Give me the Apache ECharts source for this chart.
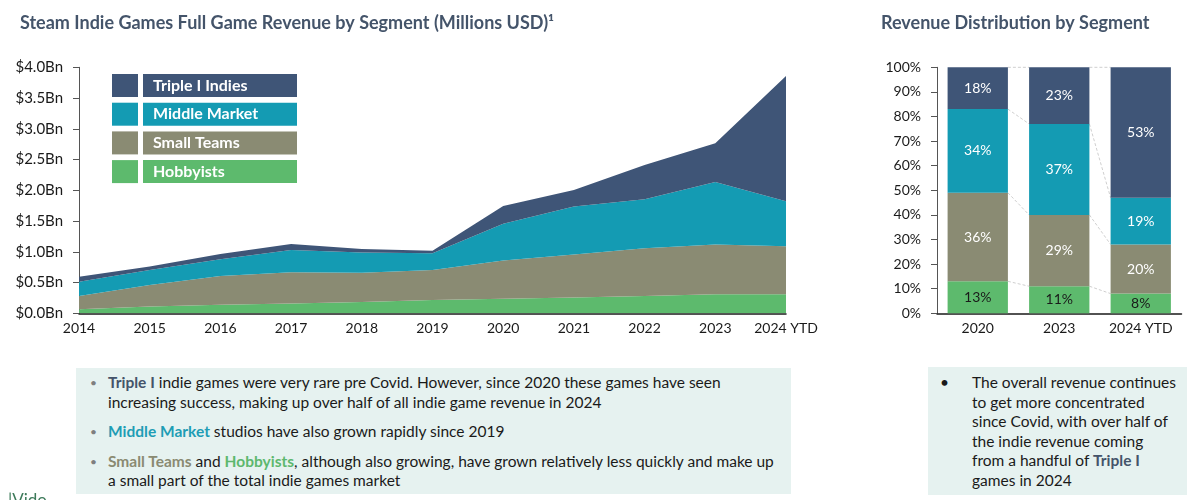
<!DOCTYPE html>
<html>
<head>
<meta charset="utf-8">
<script src="https://cdn.jsdelivr.net/npm/echarts@6/dist/echarts.min.js"></script>
<style>
html,body{margin:0;padding:0;background:#fff;}
#wrap{position:relative;width:1200px;height:500px;overflow:hidden;font-family:Lato,"Open Sans",sans-serif;}
#chart{position:absolute;left:0;top:0;width:1200px;height:500px;}
.box{position:absolute;background:#E6F2F0;color:#1a1a1a;font-size:15.5px;line-height:19.5px;white-space:nowrap;}
.item{position:relative;padding-left:32px;}
.item:before{content:"\2022";position:absolute;left:14px;top:0;color:#7f7f7f;font-size:12px;}
.tI{color:#44546A;font-weight:bold;}
.mm{color:#1E9DB5;font-weight:bold;}
.st{color:#8A8A72;font-weight:bold;}
.hb{color:#5DB86E;font-weight:bold;}
#logo{position:absolute;left:8px;top:489px;color:#3d7a5a;font-size:17px;}
</style>
</head>
<body>
<div id="wrap">
<div id="chart"></div>
<div class="box" id="boxL" style="left:76px;top:368px;width:715px;height:126px;">
  <div style="padding-top:5px;">
    <div class="item"><span class="tI">Triple I</span> indie games were very rare pre Covid. However, since 2020 these games have seen<br>increasing success, making up over half of all indie game revenue in 2024</div>
    <div class="item" style="margin-top:10px;"><span class="mm">Middle Market</span> studios have also grown rapidly since 2019</div>
    <div class="item" style="margin-top:10px;"><span class="st">Small Teams</span> and <span class="hb">Hobbyists</span>, although also growing, have grown relatively less quickly and make up<br>a small part of the total indie games market</div>
  </div>
</div>
<div class="box" id="boxR" style="left:928px;top:367px;width:259px;height:128px;">
  <div style="padding-top:6px;position:relative;padding-left:44px;">
    <span style="position:absolute;left:12px;top:6px;">&#8226;</span>
    The overall revenue continues<br>to get more concentrated<br>since Covid, with over half of<br>the indie revenue coming<br>from a handful of <span class="tI">Triple I</span><br>games in 2024
  </div>
</div>
<div id="logo">|Vido</div>
</div>
<script>
// ---- Data (millions USD) ----
const years = ['2014','2015','2016','2017','2018','2019','2020','2021','2022','2023','2024 YTD'];
const hobbyists    = [65, 110, 140, 160, 185, 215, 235, 255, 280, 310, 310];
const smallTeams   = [215, 350, 467, 507, 475, 490, 625, 700, 777, 810, 780];
const middleMarket = [235, 245, 271, 363, 330, 271, 595, 780, 797, 1015, 730];
const tripleI      = [81, 55, 87, 97, 56, 43, 290, 271, 556, 629, 2040];

// ---- Share data (%) ----
const shareYears = ['2020','2023','2024 YTD'];
const shareHobbyists    = [13, 11, 8];
const shareSmallTeams   = [36, 29, 20];
const shareMiddleMarket = [34, 37, 19];
const shareTripleI      = [18, 23, 53];

const names = ['Hobbyists','Small Teams','Middle Market','Triple I Indies'];
const colors = {
  'Triple I Indies':'#3F5577',
  'Middle Market':'#149BB3',
  'Small Teams':'#8A8B73',
  'Hobbyists':'#5DBA6D'
};
const FONT = 'Lato, "Open Sans", sans-serif';
const areaData = [hobbyists, smallTeams, middleMarket, tripleI];
const shareData = [shareHobbyists, shareSmallTeams, shareMiddleMarket, shareTripleI];

// connectors between stacked bar boundaries
const connData = [];
for (let i = 0; i < shareYears.length - 1; i++) {
  let a = 0, b = 0;
  for (let k = 0; k < shareData.length; k++) {
    a += shareData[k][i]; b += shareData[k][i+1];
    connData.push([i, Math.min(a,100), Math.min(b,100)]);
  }
}
const BAR_FRAC = 0.74;

const chart = echarts.init(document.getElementById('chart'));
const axisLabelStyle = {color:'#1a1a1a', fontSize:14, fontFamily:FONT};

const series = [];
names.forEach((n, k) => {
  series.push({
    name:n, type:'line', stack:'rev', xAxisIndex:0, yAxisIndex:0,
    data:areaData[k], symbol:'none', smooth:false,
    lineStyle:{width:0, color:colors[n]},
    itemStyle:{color:colors[n]},
    areaStyle:{color:colors[n], opacity:1},
    emphasis:{disabled:true}
  });
});
names.forEach((n, k) => {
  series.push({
    name:n, type:'bar', stack:'share', xAxisIndex:1, yAxisIndex:1,
    data:shareData[k], barWidth:(BAR_FRAC*100)+'%',
    itemStyle:{color:colors[n]},
    label:{show:true, position:'inside', formatter:'{c}%', fontSize:14, fontFamily:FONT,
      color: n === 'Hobbyists' ? '#1a1a1a' : '#ffffff'},
    emphasis:{disabled:true}
  });
});
series.push({
  name:'connectors', type:'custom', xAxisIndex:1, yAxisIndex:1,
  data:connData, silent:true, z:1,
  renderItem:function(params, api){
    const i = api.value(0);
    const p1 = api.coord([i, api.value(1)]);
    const p2 = api.coord([i+1, api.value(2)]);
    const hw = api.size([1,0])[0] * BAR_FRAC / 2;
    return {type:'line', shape:{x1:p1[0]+hw, y1:p1[1], x2:p2[0]-hw, y2:p2[1]},
      style:{stroke:'#cfcfcf', lineWidth:1, lineDash:[3,2]}};
  },
  encode:{x:0, y:[1,2]}
});

chart.setOption({
  animation:false,
  title:[
    {text:'Steam Indie Games Full Game Revenue by Segment (Millions USD)\u00B9', left:15, top:9,
     textStyle:{color:'#44546A', fontSize:18, fontWeight:'bold', fontFamily:FONT}},
    {text:'Revenue Distribution by Segment', left:876, top:9,
     textStyle:{color:'#44546A', fontSize:18, fontWeight:'bold', fontFamily:FONT}}
  ],
  legend:{
    orient:'vertical', left:112, top:74, padding:0, icon:'rect', itemWidth:26, itemHeight:23, itemGap:5.7,
    selectedMode:false,
    data:[
      {name:'Triple I Indies', textStyle:{backgroundColor:colors['Triple I Indies']}},
      {name:'Middle Market', textStyle:{backgroundColor:colors['Middle Market']}},
      {name:'Small Teams', textStyle:{backgroundColor:colors['Small Teams']}},
      {name:'Hobbyists', textStyle:{backgroundColor:colors['Hobbyists']}}
    ],
    textStyle:{color:'#fff', fontWeight:'bold', fontSize:16, fontFamily:FONT, width:134, lineHeight:15,
      padding:[4,10,4,10]}
  },
  grid:[
    {left:79, right:414, top:67.3, bottom:186.7},
    {left:937, right:18.5, top:67.3, bottom:186.7}
  ],
  xAxis:[
    {gridIndex:0, type:'category', data:years, boundaryGap:false,
     axisLine:{lineStyle:{color:'#1a1a1a', width:1.5}}, axisTick:{show:false},
     axisLabel:Object.assign({margin:8, interval:0}, axisLabelStyle)},
    {gridIndex:1, type:'category', data:shareYears,
     axisLine:{lineStyle:{color:'#1a1a1a', width:1.5}}, axisTick:{show:false},
     axisLabel:Object.assign({margin:8, interval:0}, axisLabelStyle)}
  ],
  yAxis:[
    {gridIndex:0, type:'value', min:0, max:4000, interval:500,
     axisLine:{show:true, lineStyle:{color:'#555'}}, axisTick:{show:true, length:6, lineStyle:{color:'#555'}},
     splitLine:{show:false},
     axisLabel:Object.assign({}, axisLabelStyle, {margin:16, fontSize:15, formatter:v => '$' + (v/1000).toFixed(1) + 'Bn'})},
    {gridIndex:1, type:'value', min:0, max:100, interval:10,
     axisLine:{show:true, lineStyle:{color:'#555'}}, axisTick:{show:true, length:6, lineStyle:{color:'#555'}},
     splitLine:{show:false},
     axisLabel:Object.assign({margin:16, formatter:'{value}%'}, axisLabelStyle)}
  ],
  series:series
});
</script>
</body>
</html>
